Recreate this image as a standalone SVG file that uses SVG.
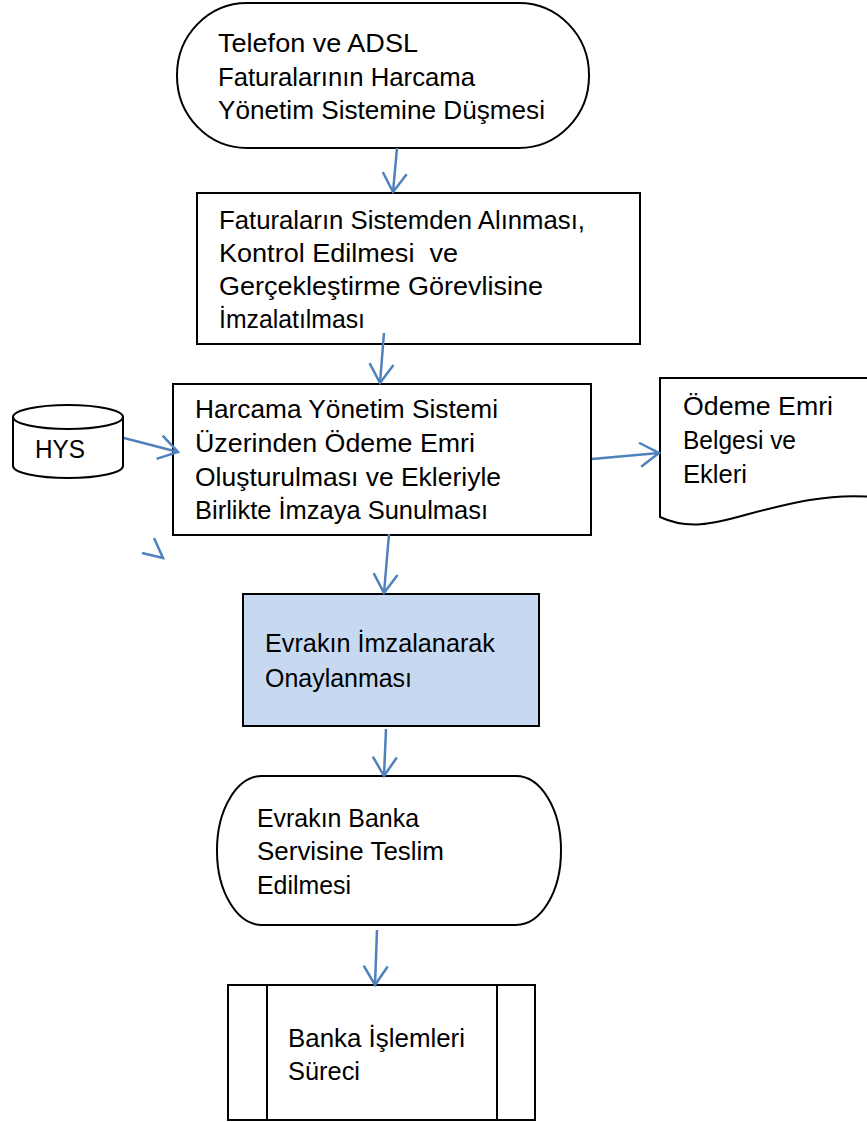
<svg xmlns="http://www.w3.org/2000/svg" width="867" height="1122" viewBox="0 0 867 1122">
<style>
.s{fill:#fff;stroke:#000;stroke-width:2}
.t{font-family:"Liberation Sans",Arial,sans-serif;font-size:25.5px;fill:#000}
.c{fill:none;stroke:#4F81BD;stroke-width:2.5}
</style>
<defs>
<marker id="ah" markerUnits="userSpaceOnUse" viewBox="0 0 22 26" refX="20" refY="13" markerWidth="22" markerHeight="26" orient="auto">
<path d="M1,1 L20,13 L1,25" fill="none" stroke="#4F81BD" stroke-width="2.5"/>
</marker>
</defs>
<rect width="867" height="1122" fill="#fff"/>
<g id="n1">
<rect class="s" x="177" y="3" width="412" height="145" rx="70" ry="72"/>
<text class="t" x="218" y="52" textLength="200" lengthAdjust="spacingAndGlyphs">Telefon ve ADSL</text>
<text class="t" x="218" y="86" textLength="257" lengthAdjust="spacingAndGlyphs">Faturalarının Harcama</text>
<text class="t" x="218" y="119" textLength="327" lengthAdjust="spacingAndGlyphs">Yönetim Sistemine Düşmesi</text>
</g>
<g id="n2">
<rect class="s" x="197" y="193" width="443" height="151"/>
<text class="t" x="219" y="229" textLength="366" lengthAdjust="spacingAndGlyphs">Faturaların Sistemden Alınması,</text>
<text class="t" x="219" y="262" xml:space="preserve" textLength="239" lengthAdjust="spacingAndGlyphs">Kontrol Edilmesi  ve</text>
<text class="t" x="219" y="295" textLength="324" lengthAdjust="spacingAndGlyphs">Gerçekleştirme Görevlisine</text>
<text class="t" x="219" y="328" textLength="146" lengthAdjust="spacingAndGlyphs">İmzalatılması</text>
</g>
<g id="n3">
<rect class="s" x="173" y="384" width="418" height="151"/>
<text class="t" x="195" y="418" textLength="303" lengthAdjust="spacingAndGlyphs">Harcama Yönetim Sistemi</text>
<text class="t" x="195" y="452" textLength="280" lengthAdjust="spacingAndGlyphs">Üzerinden Ödeme Emri</text>
<text class="t" x="195" y="486" textLength="306" lengthAdjust="spacingAndGlyphs">Oluşturulması ve Ekleriyle</text>
<text class="t" x="195" y="519" textLength="293" lengthAdjust="spacingAndGlyphs">Birlikte İmzaya Sunulması</text>
</g>
<g id="hys">
<path class="s" d="M13,417 A55,12 0 0 1 123,417 V466 A55,12 0 0 1 13,466 Z"/>
<path d="M13,417 A55,12 0 0 0 123,417" fill="none" stroke="#000" stroke-width="2"/>
<text class="t" x="35" y="458" textLength="50" lengthAdjust="spacingAndGlyphs">HYS</text>
</g>
<g id="doc">
<path class="s" d="M660,378 H872 V497 C830,493 790,503 745,515 C712,524 688,530 660,517 Z"/>
<text class="t" x="683" y="415" textLength="150" lengthAdjust="spacingAndGlyphs">Ödeme Emri</text>
<text class="t" x="683" y="449" textLength="113" lengthAdjust="spacingAndGlyphs">Belgesi ve</text>
<text class="t" x="683" y="483" textLength="64" lengthAdjust="spacingAndGlyphs">Ekleri</text>
</g>
<g id="n4">
<rect x="243" y="594" width="296" height="132" fill="#C6D9F1" stroke="#000" stroke-width="2"/>
<text class="t" x="265" y="652" textLength="230" lengthAdjust="spacingAndGlyphs">Evrakın İmzalanarak</text>
<text class="t" x="265" y="687" textLength="147" lengthAdjust="spacingAndGlyphs">Onaylanması</text>
</g>
<g id="n5">
<rect class="s" x="217" y="776" width="344" height="149" rx="45" ry="74"/>
<text class="t" x="257" y="827" textLength="162" lengthAdjust="spacingAndGlyphs">Evrakın Banka</text>
<text class="t" x="257" y="860" textLength="187" lengthAdjust="spacingAndGlyphs">Servisine Teslim</text>
<text class="t" x="257" y="894" textLength="94" lengthAdjust="spacingAndGlyphs">Edilmesi</text>
</g>
<g id="n6">
<rect class="s" x="228" y="985" width="307" height="135"/>
<line x1="267" y1="985" x2="267" y2="1120" stroke="#000" stroke-width="2"/>
<line x1="497" y1="985" x2="497" y2="1120" stroke="#000" stroke-width="2"/>
<text class="t" x="288" y="1047" textLength="177" lengthAdjust="spacingAndGlyphs">Banka İşlemleri</text>
<text class="t" x="288" y="1080" textLength="72" lengthAdjust="spacingAndGlyphs">Süreci</text>
</g>
<g id="connectors">
<line class="c" x1="397" y1="148" x2="393" y2="192" marker-end="url(#ah)"/>
<line class="c" x1="384" y1="333" x2="380" y2="383" marker-end="url(#ah)"/>
<line class="c" x1="124" y1="438" x2="178" y2="452" marker-end="url(#ah)"/>
<line class="c" x1="592" y1="459" x2="659" y2="453" marker-end="url(#ah)"/>
<line class="c" x1="389" y1="534" x2="384" y2="593" marker-end="url(#ah)"/>
<line class="c" x1="386" y1="729" x2="384" y2="776" marker-end="url(#ah)"/>
<line class="c" x1="377" y1="930" x2="375" y2="985" marker-end="url(#ah)"/>
<polyline class="c" points="154,538 163,558 142,553"/>
</g>
</svg>
